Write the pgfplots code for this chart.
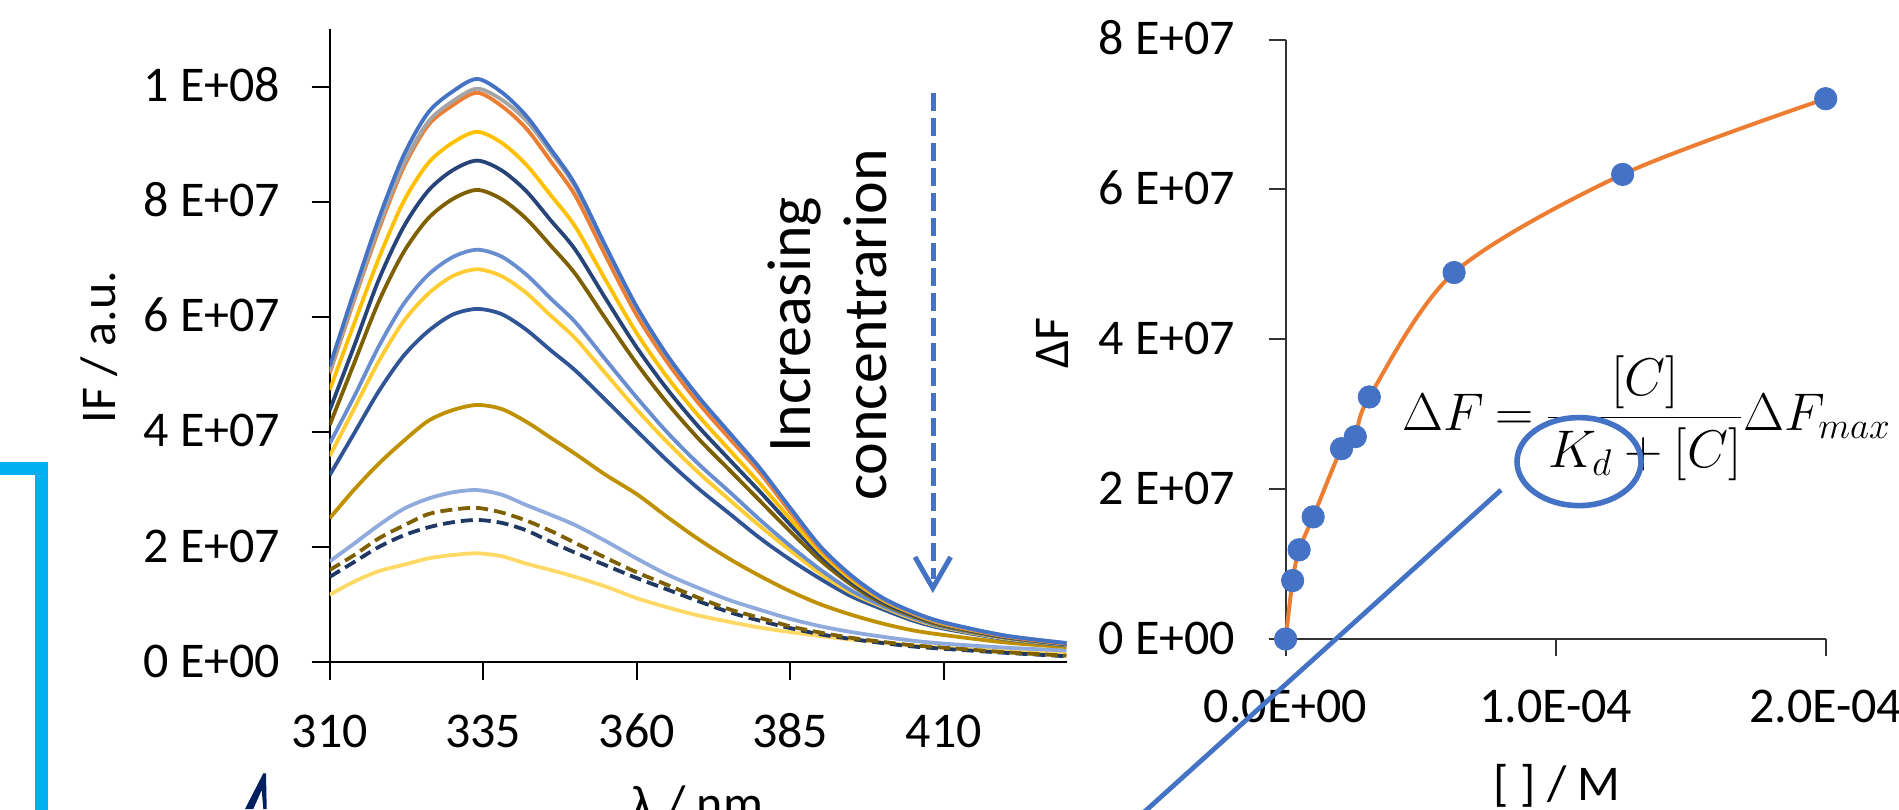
\RequirePackage{fix-cm}
\documentclass[border=0pt]{standalone}
\usepackage{fontspec}
\setmainfont{Carlito}
\usepackage{pgfplots}
\usepackage{pgfplotstable}
\pgfplotsset{compat=1.18}

\definecolor{cblue}{HTML}{4472C4}
\definecolor{cgray}{HTML}{A5A5A5}
\definecolor{corange}{HTML}{ED7D31}
\definecolor{cgold}{HTML}{FFC000}
\definecolor{cnavy}{HTML}{264478}
\definecolor{colive}{HTML}{7F6000}
\definecolor{clblue}{HTML}{698ED0}
\definecolor{clyel}{HTML}{FFCD33}
\definecolor{cmblue}{HTML}{2F5597}
\definecolor{cdgold}{HTML}{BF9000}
\definecolor{cpblue}{HTML}{8FAADC}
\definecolor{cdnavy}{HTML}{1F3864}
\definecolor{cpyel}{HTML}{FFD966}
\definecolor{ccyan}{HTML}{00B0F0}
\definecolor{cdark}{HTML}{002060}

% emission spectra, intensity in units of 1E+07
\pgfplotstableread{
x   blue  gray  orange gold navy olive lblue lyel mblue dgold pblue dolive dnavy pyel
310 5.14  5.05  5.02  4.73  4.38  4.12  3.80  3.58  3.25  2.50  1.75  1.60  1.48  1.17
314 6.45  6.34  6.30  5.89  5.50  5.20  4.62  4.41  3.98  3.00  2.06  1.86  1.74  1.40
318 7.71  7.58  7.52  7.02  6.65  6.27  5.49  5.23  4.71  3.45  2.38  2.15  2.00  1.58
322 8.80  8.65  8.59  8.00  7.56  7.12  6.22  5.92  5.32  3.84  2.66  2.37  2.20  1.69
326 9.55  9.39  9.33  8.67  8.19  7.71  6.73  6.40  5.75  4.19  2.84  2.57  2.34  1.80
330 9.92  9.75  9.68  9.03  8.55  8.05  7.04  6.71  6.04  4.38  2.95  2.65  2.43  1.86
334 10.14 9.97  9.90  9.22  8.72  8.21  7.17  6.83  6.14  4.47  2.99  2.68  2.47  1.89
338 9.91  9.78  9.67  9.03  8.55  8.05  7.05  6.71  6.05  4.40  2.91  2.60  2.42  1.84
342 9.50  9.42  9.28  8.65  8.19  7.71  6.74  6.42  5.78  4.18  2.73  2.46  2.29  1.71
346 8.92  8.87  8.71  8.12  7.68  7.24  6.32  6.02  5.42  3.90  2.56  2.28  2.09  1.60
350 8.30  8.26  8.11  7.57  7.17  6.75  5.91  5.63  5.07  3.62  2.38  2.07  1.90  1.48
355 7.22  7.19  7.05  6.63  6.31  5.96  5.25  5.01  4.55  3.25  2.10  1.81  1.68  1.31
360 6.18  6.16  6.03  5.72  5.47  5.19  4.60  4.39  4.02  2.92  1.80  1.56  1.46  1.11
365 5.33  5.31  5.21  4.95  4.74  4.50  3.99  3.82  3.50  2.52  1.52  1.34  1.26  0.95
370 4.62  4.61  4.51  4.29  4.10  3.89  3.45  3.30  3.02  2.14  1.29  1.12  1.06  0.81
375 4.00  3.99  3.90  3.70  3.53  3.35  2.97  2.83  2.59  1.80  1.08  0.92  0.87  0.70
380 3.38  3.37  3.30  3.11  2.97  2.81  2.48  2.37  2.16  1.50  0.91  0.77  0.72  0.60
385 2.68  2.67  2.61  2.49  2.39  2.27  2.02  1.94  1.78  1.23  0.75  0.62  0.59  0.52
390 2.00  1.99  1.96  1.90  1.84  1.76  1.60  1.53  1.44  1.00  0.62  0.51  0.48  0.45
395 1.50  1.49  1.47  1.43  1.39  1.34  1.24  1.20  1.14  0.82  0.52  0.42  0.40  0.39
400 1.12  1.11  1.10  1.08  1.05  1.02  0.98  0.96  0.92  0.67  0.44  0.35  0.33  0.34
405 0.87  0.86  0.85  0.84  0.82  0.80  0.77  0.75  0.72  0.55  0.37  0.29  0.27  0.29
410 0.69  0.68  0.67  0.66  0.65  0.63  0.61  0.60  0.58  0.47  0.32  0.25  0.23  0.25
420 0.46  0.46  0.45  0.45  0.44  0.43  0.42  0.41  0.40  0.34  0.25  0.17  0.16  0.19
430 0.33  0.33  0.32  0.32  0.31  0.31  0.30  0.30  0.29  0.26  0.20  0.11  0.10  0.14
}\spectra

% titration: concentration / M, Delta F
\pgfplotstableread{
c        dF
0        0
2.6e-6   7.8e6
5.0e-6   1.19e7
1.02e-5  1.63e7
2.07e-5  2.54e7
2.58e-5  2.70e7
3.10e-5  3.23e7
6.24e-5  4.89e7
1.248e-4 6.20e7
2.0e-4   7.21e7
}\titration

\newcommand{\tickfont}{\fontsize{25}{30}\selectfont}

\begin{document}
\begin{tikzpicture}
\useasboundingbox (0,0) rectangle (949.5pt,404.5pt);
\clip (0,0) rectangle (949.5pt,404.5pt);

% ---------- left: spectra ----------
\begin{axis}[
  at={(164.85pt,73.5pt)}, anchor=south west,
  scale only axis, width=368.4pt, height=316.25pt,
  xmin=310, xmax=430, ymin=0, ymax=11,
  axis lines=left,
  axis line style={-, line width=1pt, black},
  tick align=outside, major tick length=9pt,
  tick style={line width=1pt, black},
  xtick={310,335,360,385,410}, xticklabels={310,335,360,385,410},
  ytick={0,2,4,6,8,10},
  yticklabels={0 E+00,2 E+07,4 E+07,6 E+07,8 E+07,1 E+08},
  ticklabel style={font=\tickfont, inner sep=0pt, text height=15pt, text depth=0pt},
  yticklabel style={xshift=-15.5pt},
  xticklabel style={yshift=-18.5pt},
  every axis plot/.append style={line width=1.9pt, smooth},
]
\addplot[color=cpyel] table[x=x,y=pyel] {\spectra};
\addplot[color=cdnavy, dash pattern=on 6pt off 3pt] table[x=x,y=dnavy] {\spectra};
\addplot[color=colive, dash pattern=on 6pt off 3pt] table[x=x,y=dolive] {\spectra};
\addplot[color=cpblue] table[x=x,y=pblue] {\spectra};
\addplot[color=cdgold] table[x=x,y=dgold] {\spectra};
\addplot[color=cmblue] table[x=x,y=mblue] {\spectra};
\addplot[color=clyel] table[x=x,y=lyel] {\spectra};
\addplot[color=clblue] table[x=x,y=lblue] {\spectra};
\addplot[color=colive] table[x=x,y=olive] {\spectra};
\addplot[color=cnavy] table[x=x,y=navy] {\spectra};
\addplot[color=cgold] table[x=x,y=gold] {\spectra};
\addplot[color=corange] table[x=x,y=orange] {\spectra};
\addplot[color=cgray] table[x=x,y=gray] {\spectra};
\addplot[color=cblue] table[x=x,y=blue] {\spectra};
\end{axis}

% ---------- right: titration ----------
\begin{axis}[
  at={(642.8pt,85pt)}, anchor=south west,
  scale only axis, width=270.05pt, height=299.75pt,
  xmin=0, xmax=2e-4, ymin=0, ymax=8e7,
  axis lines=left,
  axis line style={-, line width=1pt, black!80},
  tick align=outside, major tick length=8.5pt,
  tick style={line width=1pt, black!80},
  xtick={0,1e-4,2e-4}, xticklabels={0.0E+00,1.0E-04,2.0E-04},
  ytick={0,2e7,4e7,6e7,8e7},
  yticklabels={0 E+00,2 E+07,4 E+07,6 E+07,8 E+07},
  scaled ticks=false,
  ticklabel style={font=\tickfont, inner sep=0pt, text height=15pt, text depth=0pt},
  yticklabel style={xshift=-16.5pt},
  xticklabel style={yshift=-18pt},
  clip=false,
]
\addplot[color=corange, line width=2pt, smooth, tension=0.5] table[x=c,y=dF] {\titration};
\addplot[only marks, mark=*, mark size=5.6pt, color=cblue] table[x=c,y=dF] {\titration};
\end{axis}

% ---------- axis titles ----------
\node[rotate=90, anchor=base, inner sep=0pt, font=\tickfont] at (57.6pt,231pt) {IF / a.u.};
\node[anchor=north, inner sep=0pt, font=\tickfont] at (348.75pt,12pt) {λ / nm};
\node[rotate=90, anchor=base, inner sep=0pt, font=\tickfont] at (534.4pt,233pt) {ΔF};
\node[anchor=north, inner sep=0pt, font=\tickfont] at (778.5pt,22.5pt) {[ ] / M};

% ---------- annotations ----------
\node[rotate=90, anchor=base, inner sep=0pt, font=\fontsize{31}{37}\selectfont] at (405pt,242pt) {Increasing};
\node[rotate=90, anchor=base, inner sep=0pt, font=\fontsize{31}{37}\selectfont] at (443.35pt,242pt) {concentrarion};
\draw[cblue, line width=2.5pt, dash pattern=on 9pt off 3.5pt] (466.65pt,358pt) -- (466.65pt,115pt);
\draw[cblue, line width=2.5pt, line join=miter] (457.5pt,126pt) -- (466.4pt,110.5pt) -- (475.3pt,126pt);

\node[anchor=base west, inner sep=0pt, font=\fontsize{26.5}{32}\selectfont] at (701pt,189pt)
  {\thickmuskip=4mu $\displaystyle \Delta F = \frac{[C]}{K_d + [C]}\Delta F_{max}$};
\draw[cblue, line width=2.8pt] (789.5pt,173.7pt) ellipse [x radius=31pt, y radius=22pt];
\draw[cblue, line width=2.4pt] (750.5pt,159.5pt) -- (540pt,-30.5pt);

\draw[ccyan, line width=6.5pt, line join=miter] (-10pt,170.4pt) -- (20.75pt,170.4pt) -- (20.75pt,-10pt);
\fill[cdark] (131.65pt,17.85pt) -- (122.5pt,0pt) -- (126.65pt,0pt) -- (130.85pt,9.5pt) -- (131.65pt,0pt) -- (133.35pt,0pt) -- (133pt,17.85pt) -- cycle;
\end{tikzpicture}
\end{document}
